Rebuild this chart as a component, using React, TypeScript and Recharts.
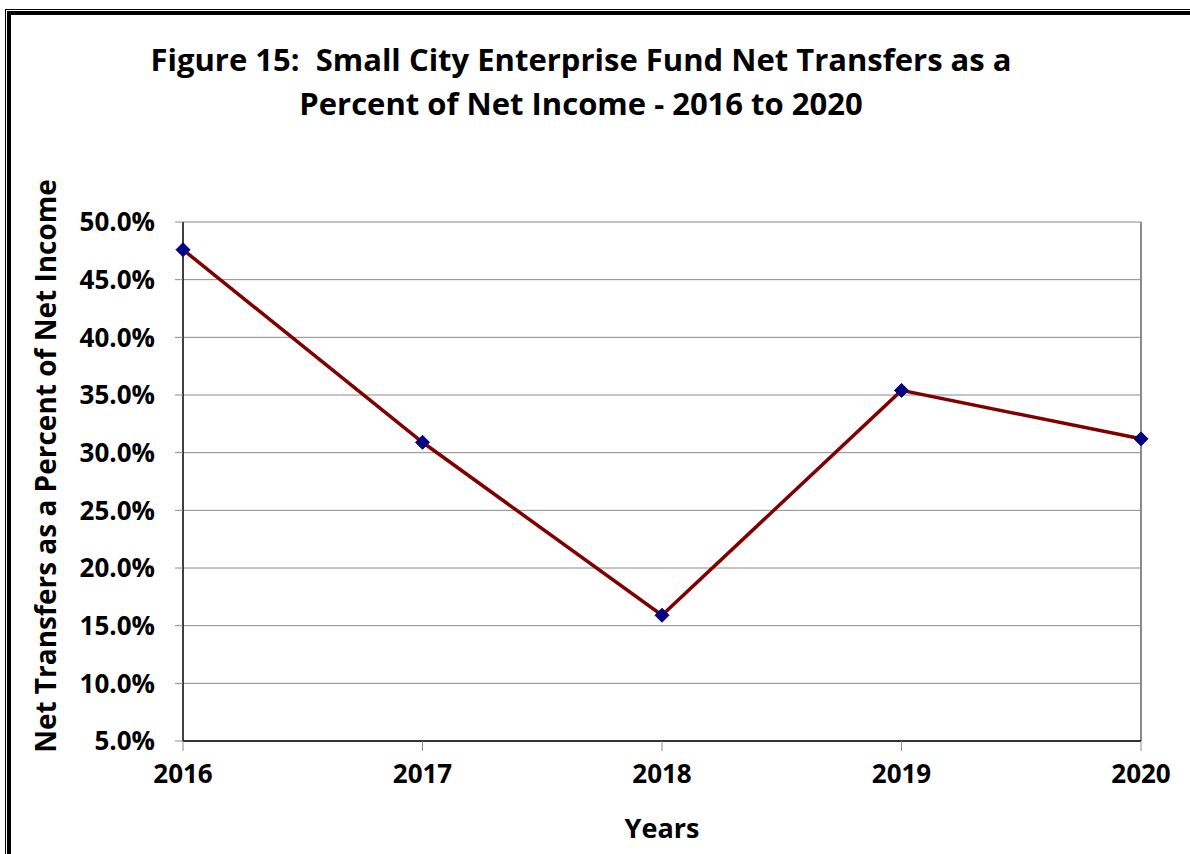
import React from "react";
import {
  CartesianGrid,
  Line,
  LineChart,
  ReferenceLine,
  XAxis,
  YAxis,
} from "recharts";

const years = ["2016", "2017", "2018", "2019", "2020"];
const netTransfersPct = [47.6, 30.9, 15.9, 35.4, 31.2];
const yTicks = [5, 10, 15, 20, 25, 30, 35, 40, 45, 50];

const data = years.map((year, i) => ({ year, pct: netTransfersPct[i] }));

const FONT = "'Open Sans', Lato, sans-serif";

const Diamond = (props: any) => {
  const { cx, cy } = props;
  if (cx == null || cy == null) return null;
  const r = 7;
  return (
    <path
      d={`M${cx},${cy - r} L${cx + r},${cy} L${cx},${cy + r} L${cx - r},${cy} Z`}
      fill="#000080"
      stroke="#000080"
    />
  );
};

// y title sits a bit above the middle of the axis in the original
const YTitle = () => (
  <text
    transform="translate(45,466) rotate(-90)"
    textAnchor="middle"
    dominantBaseline="central"
    fill="#000"
    fontSize={28}
    fontWeight={700}
    fontFamily={FONT}
  >
    Net Transfers as a Percent of Net Income
  </text>
);

const App = () => {
  return (
    <div
      style={{
        position: "absolute",
        top: 0,
        left: 0,
        width: 1190,
        height: 854,
        overflow: "hidden",
        background: "#fff",
        fontFamily: FONT,
      }}
    >
      {/* double frame, runs off the right and bottom edges */}
      <div
        style={{
          position: "absolute",
          left: 5,
          top: 9,
          width: 1400,
          height: 1100,
          border: "1px solid #000",
        }}
      />
      <div
        style={{
          position: "absolute",
          left: 7,
          top: 11,
          width: 1400,
          height: 1100,
          border: "4px solid #000",
        }}
      />

      <div
        style={{
          position: "absolute",
          top: 37,
          left: 81,
          width: 1000,
          textAlign: "center",
          fontSize: 31,
          fontWeight: 700,
          lineHeight: "44px",
          color: "#000",
          whiteSpace: "pre",
        }}
      >
        {"Figure 15:  Small City Enterprise Fund Net Transfers as a\nPercent of Net Income - 2016 to 2020"}
      </div>

      <div style={{ position: "absolute", top: 0, left: 0 }}>
        <LineChart
          width={1190}
          height={854}
          data={data}
          margin={{ top: 222, right: 49, bottom: 13, left: 23 }}
        >
          <CartesianGrid horizontal vertical={false} stroke="#8a8a8a" />
          <XAxis
            dataKey="year"
            height={100}
            axisLine={{ stroke: "#000", strokeWidth: 1.5 }}
            tickLine={{ stroke: "#8a8a8a" }}
            tickSize={10}
            tickMargin={14}
            tick={{ fill: "#000", fontSize: 26, fontWeight: 700, fontFamily: FONT }}
            label={{
              value: "Years",
              position: "insideBottom",
              offset: 3,
              fill: "#000",
              fontSize: 27,
              fontWeight: 700,
              fontFamily: FONT,
            }}
          />
          <YAxis
            width={160}
            domain={[5, 50]}
            ticks={yTicks}
            interval={0}
            axisLine={{ stroke: "#000", strokeWidth: 1.5 }}
            tickLine={{ stroke: "#8a8a8a" }}
            tickSize={8}
            tickMargin={20}
            tickFormatter={(v: number) => `${v.toFixed(1)}%`}
            tick={{ fill: "#000", fontSize: 26, fontWeight: 700, fontFamily: FONT }}
            label={{ content: () => <YTitle /> }}
          />
          <ReferenceLine x="2020" stroke="#8a8a8a" strokeWidth={2} />
          <Line
            type="linear"
            dataKey="pct"
            stroke="#800000"
            strokeWidth={3.5}
            dot={<Diamond />}
            activeDot={false}
            isAnimationActive={false}
          />
        </LineChart>
      </div>
    </div>
  );
};

export default App;
